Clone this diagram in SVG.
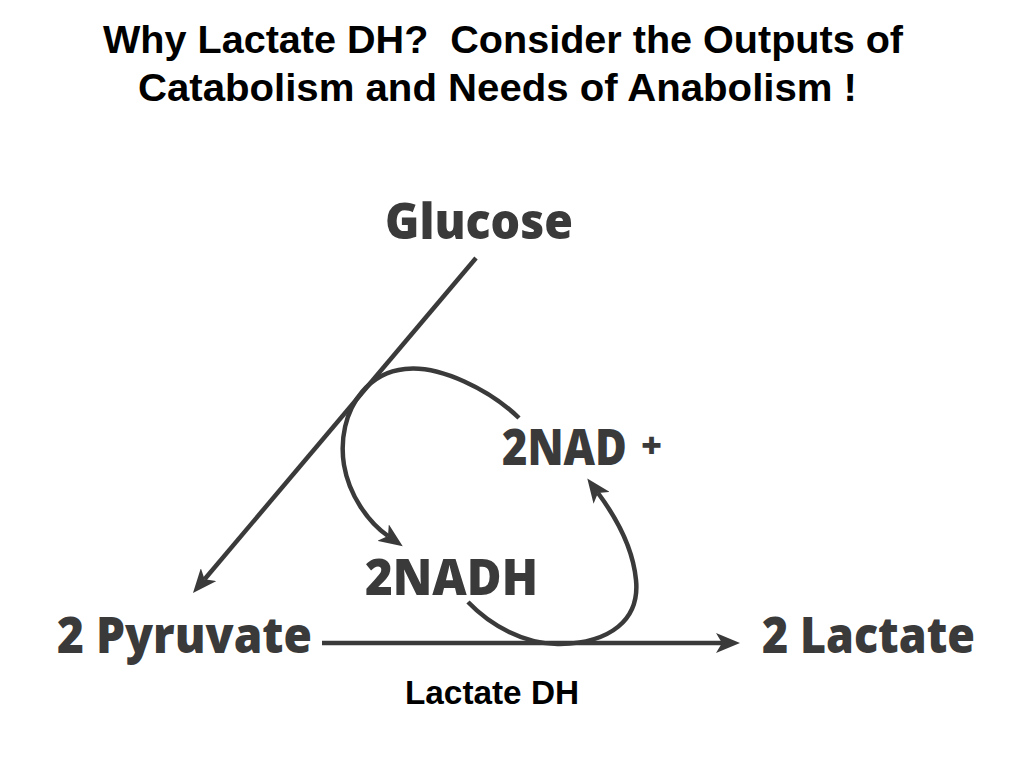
<svg xmlns="http://www.w3.org/2000/svg" width="1024" height="768" viewBox="0 0 1024 768">
<style>
.title{font-family:"Liberation Sans",Arial,sans-serif;font-weight:bold;font-size:38px;fill:#000;white-space:pre}
.lbl{font-family:"Open Sans","Noto Sans",sans-serif;font-weight:800;font-size:50px;fill:#3a3a3a}
.enz{font-family:"Liberation Sans",Arial,sans-serif;font-weight:bold;font-size:33px;fill:#000}
.conn{fill:none;stroke:#3a3a3a;stroke-width:4.5;stroke-linecap:butt}
</style>
<defs>
<marker id="ah" viewBox="0 0 24 20" refX="6" refY="10" markerWidth="24" markerHeight="20" markerUnits="userSpaceOnUse" orient="auto">
<path d="M0,0 L24,10 L0,20 L6,10 Z" fill="#3a3a3a"/>
</marker>
</defs>
<rect width="1024" height="768" fill="#fff"/>
<g id="title">
<text class="title" x="103" y="53" textLength="800" lengthAdjust="spacingAndGlyphs">Why Lactate DH?  Consider the Outputs of</text>
<text class="title" x="138" y="101" textLength="719" lengthAdjust="spacingAndGlyphs">Catabolism and Needs of Anabolism !</text>
</g>
<g id="connectors">
<path class="conn" d="M476,258 L204.6,579.2" marker-end="url(#ah)"/>
<path class="conn" d="M322,643 L722,643" marker-end="url(#ah)"/>
<path class="conn" d="M519,418 C490,390 440,365 405,369 C385,371 372,380 362,392 C345,412 340,440 344,465 C349,495 368,522 388,536" marker-end="url(#ah)"/>
<path class="conn" d="M468,602 C490,625 525,645 560,644 C610,643 640,620 636,580 C633,548 618,520 598,493" marker-end="url(#ah)"/>
</g>
<g id="glucose"><text class="lbl" x="385" y="239" textLength="188" lengthAdjust="spacingAndGlyphs">Glucose</text></g>
<g id="nadplus">
<text class="lbl" transform="translate(502,465) scale(0.886,1)" x="0" y="0" textLength="141" lengthAdjust="spacingAndGlyphs">2NAD</text>
<text class="lbl" x="641" y="458" style="font-size:36px">+</text>
</g>
<g id="nadh"><text class="lbl" x="365" y="595" textLength="173" lengthAdjust="spacingAndGlyphs">2NADH</text></g>
<g id="pyruvate"><text class="lbl" x="57" y="653" textLength="255" lengthAdjust="spacingAndGlyphs">2 Pyruvate</text></g>
<g id="lactate"><text class="lbl" x="762" y="653" textLength="213" lengthAdjust="spacingAndGlyphs">2 Lactate</text></g>
<g id="enzyme"><text class="enz" x="405" y="704" textLength="174" lengthAdjust="spacingAndGlyphs">Lactate DH</text></g>
</svg>
